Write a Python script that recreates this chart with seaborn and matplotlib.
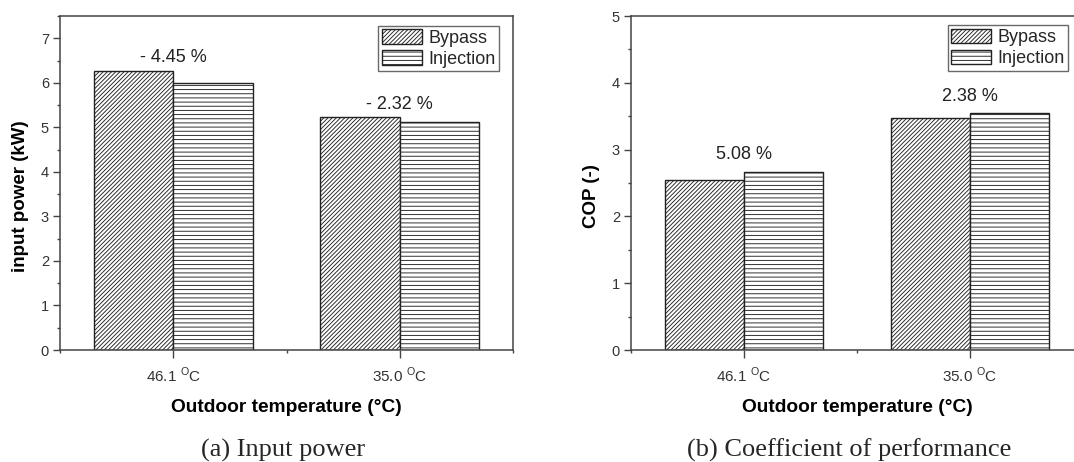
import matplotlib
matplotlib.use("Agg")
import matplotlib.pyplot as plt
import seaborn as sns
import pandas as pd
from matplotlib.patches import Patch
from matplotlib.ticker import MultipleLocator

# ---- data ----
categories = ["46.1 $^{\\mathrm{O}}$C", "35.0 $^{\\mathrm{O}}$C"]
modes = ["Bypass", "Injection"]
power_bypass = [6.27, 5.23]
power_injection = [5.99, 5.11]
cop_bypass = [2.54, 3.47]
cop_injection = [2.67, 3.55]
power_pct = ["- 4.45 %", "- 2.32 %"]
cop_pct = ["5.08 %", "2.38 %"]

sns.set_theme(style="white")
plt.rcParams["font.family"] = ["Liberation Sans", "DejaVu Sans"]
plt.rcParams["mathtext.fontset"] = "custom"
plt.rcParams["mathtext.rm"] = "Liberation Sans"
plt.rcParams["hatch.color"] = "#2a2a2a"
plt.rcParams["hatch.linewidth"] = 0.65

def long_df(a, b):
    rows = []
    for i, c in enumerate(categories):
        rows.append({"cat": c, "mode": modes[0], "val": a[i]})
        rows.append({"cat": c, "mode": modes[1], "val": b[i]})
    return pd.DataFrame(rows)

fig = plt.figure(figsize=(10.74, 4.62), dpi=100)
W, H = 1074, 462
axL = fig.add_axes([60 / W, (H - 350) / H, 453 / W, 334 / H])
axR = fig.add_axes([631 / W, (H - 350) / H, 452 / W, 334 / H])

hatches = ["////////", "----"]
spine_c = "#444444"

def draw(ax, a, b, pct, ymax, ylabel, off, lx, ly):
    df = long_df(a, b)
    sns.barplot(data=df, x="cat", y="val", hue="mode", ax=ax,
                palette=["white", "white"], edgecolor="black", linewidth=1.0,
                width=0.7, errorbar=None, legend=False)
    for cont, h in zip(ax.containers, hatches):
        for p in cont:
            p.set_hatch(h)
            p.set_facecolor("white")
            p.set_edgecolor("#222222")
    ax.set_xlim(-0.5, 1.5)
    ax.set_ylim(0, ymax)
    ax.yaxis.set_major_locator(MultipleLocator(1))
    ax.yaxis.set_minor_locator(MultipleLocator(0.5))
    ax.xaxis.set_minor_locator(MultipleLocator(0.5))
    ax.tick_params(axis="both", which="major", direction="out", length=5,
                   width=1, color=spine_c, labelsize=10.5, labelcolor="#333333",
                   left=True, bottom=True, pad=3)
    ax.tick_params(axis="x", which="major", pad=6, length=5.5, labelsize=11)
    ax.tick_params(axis="both", which="minor", direction="out", length=2.5,
                   width=1, color=spine_c, left=True, bottom=True)
    for s in ax.spines.values():
        s.set_color(spine_c)
        s.set_linewidth(1.1)
    ax.set_ylabel(ylabel, fontsize=13.5, fontweight="bold", color="black")
    ax.yaxis.set_label_coords(ly, 0.46)
    ax.set_xlabel("Outdoor temperature (°C)", fontsize=13.8, fontweight="bold",
                  color="black")
    ax.xaxis.set_label_coords(0.5, -0.148)
    for i, t in enumerate(pct):
        top = max(a[i], b[i])
        ax.text(i, top + off, t, ha="center", va="center", fontsize=13,
                color="#222222")
    handles = [Patch(facecolor="white", edgecolor="#222222", hatch=h, label=m)
               for h, m in zip(hatches, modes)]
    leg = ax.legend(handles=handles, loc="upper right", bbox_to_anchor=lx,
                    borderaxespad=0, fancybox=False, frameon=True,
                    fontsize=13, handlelength=2.2, handleheight=0.85,
                    handletextpad=0.35, labelspacing=0.2, borderpad=0.2)
    leg.get_frame().set_edgecolor(spine_c)
    leg.get_frame().set_linewidth(1.0)

draw(axL, power_bypass, power_injection, power_pct, 7.5, "input power (kW)",
     0.29, (0.969, 0.971), -0.068)
draw(axR, cop_bypass, cop_injection, cop_pct, 5, "COP (-)",
     0.25, (0.967, 0.973), -0.068)

fig.text(283 / W, 1 - 450 / H, "(a) Input power", ha="center", va="center",
         fontsize=19, family="Liberation Serif")
fig.text(849 / W, 1 - 450 / H, "(b) Coefficient of performance", ha="center",
         va="center", fontsize=19, family="Liberation Serif")

fig.savefig("out.png", dpi=100)
